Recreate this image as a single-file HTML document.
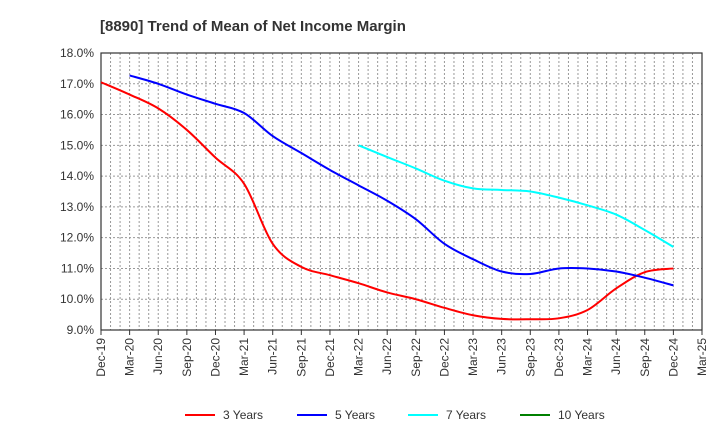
<!DOCTYPE html>
<html><head><meta charset="utf-8"><style>
body{margin:0;background:#fff;font-family:"Liberation Sans",sans-serif}
svg text{font-family:"Liberation Sans",sans-serif}
</style></head><body>
<svg id="c" width="720" height="440" xmlns="http://www.w3.org/2000/svg">
<text x="100" y="31" font-size="15" font-weight="bold" fill="#333">[8890]  Trend of Mean of Net Income Margin</text>
<g id="grid"></g><g id="axes"></g><g id="series"></g><g id="legend"></g>
</svg>
<script>
const xLabels=["Dec-19","Mar-20","Jun-20","Sep-20","Dec-20","Mar-21","Jun-21","Sep-21","Dec-21","Mar-22","Jun-22","Sep-22","Dec-22","Mar-23","Jun-23","Sep-23","Dec-23","Mar-24","Jun-24","Sep-24","Dec-24","Mar-25"];
const yTicks=[9,10,11,12,13,14,15,16,17,18];
const s3=[17.05,16.65,16.2,15.5,14.6,13.75,11.8,11.05,10.78,10.52,10.22,10.0,9.72,9.48,9.36,9.35,9.38,9.65,10.35,10.88,11.0];
const s5=[null,17.27,17.0,16.65,16.35,16.05,15.3,14.75,14.2,13.7,13.2,12.6,11.8,11.3,10.9,10.82,11.0,11.0,10.9,10.7,10.45];
const s7=[null,null,null,null,null,null,null,null,null,15.0,14.62,14.25,13.85,13.6,13.55,13.5,13.3,13.05,12.75,12.25,11.7];
const s10=[];
const seriesNames=["3 Years","5 Years","7 Years","10 Years"];
const colors=["#ff0000","#0000ff","#00ffff","#008000"];
const L=101,R=702,T=53,B=330,NS="http://www.w3.org/2000/svg";
const X=i=>L+(R-L)*(i*3)/63, Y=v=>B-(B-T)*(v-9)/9;
function mk(tag,at,par){const e=document.createElementNS(NS,tag);for(const k in at)e.setAttribute(k,at[k]);document.getElementById(par).appendChild(e);return e;}
for(let m=1;m<63;m++){const x=L+(R-L)*m/63;const g=mk('line',{x1:x,x2:x,y1:T,y2:B,stroke:'#999','stroke-dasharray':'2,2','stroke-width':1},'grid');}
yTicks.forEach(v=>{const y=Y(v);const g=mk('line',{x1:L,x2:R,y1:y,y2:y,stroke:'#999','stroke-dasharray':'2,2'},'grid');
const t=mk('text',{x:L-7,y:y+4,'text-anchor':'end','font-size':12,fill:'#333'},'axes');t.textContent=v.toFixed(1)+'%';});
const fr=mk('rect',{x:L,y:T,width:R-L,height:B-T,fill:'none',stroke:'#333','stroke-width':1.2},'axes');
xLabels.forEach((s,i)=>{const x=X(i);const tk=mk('line',{x1:x,x2:x,y1:B,y2:B+5,stroke:'#333'},'axes');
const t=mk('text',{x:x+4,y:B+8,'text-anchor':'end','font-size':12,fill:'#333',transform:`rotate(-90 ${x+4} ${B+8})`},'axes');t.textContent=s;});
function path(arr){const p=[];arr.forEach((v,i)=>{if(v!=null)p.push([X(i),Y(v)]);});if(!p.length)return '';let d=`M${p[0][0]},${p[0][1]}`;
for(let i=0;i<p.length-1;i++){const p0=p[i-1]||p[i],p1=p[i],p2=p[i+1],p3=p[i+2]||p2;const c1=[p1[0]+(p2[0]-p0[0])/6,p1[1]+(p2[1]-p0[1])/6],c2=[p2[0]-(p3[0]-p1[0])/6,p2[1]-(p3[1]-p1[1])/6];d+=`C${c1},${c2},${p2}`;}return d;}
[s3,s5,s7,s10].forEach((a,k)=>{const d=path(a);if(!d)return;const e=mk('path',{d:d,fill:'none',stroke:colors[k],'stroke-width':2},'series');});
const lx=[185,297,408,520];
seriesNames.forEach((n,k)=>{const g=mk('line',{x1:lx[k],x2:lx[k]+30,y1:415,y2:415,stroke:colors[k],'stroke-width':2},'legend');
const t=mk('text',{x:lx[k]+38,y:419,'font-size':12,fill:'#333'},'legend');t.textContent=n;});
</script>
</body></html>
